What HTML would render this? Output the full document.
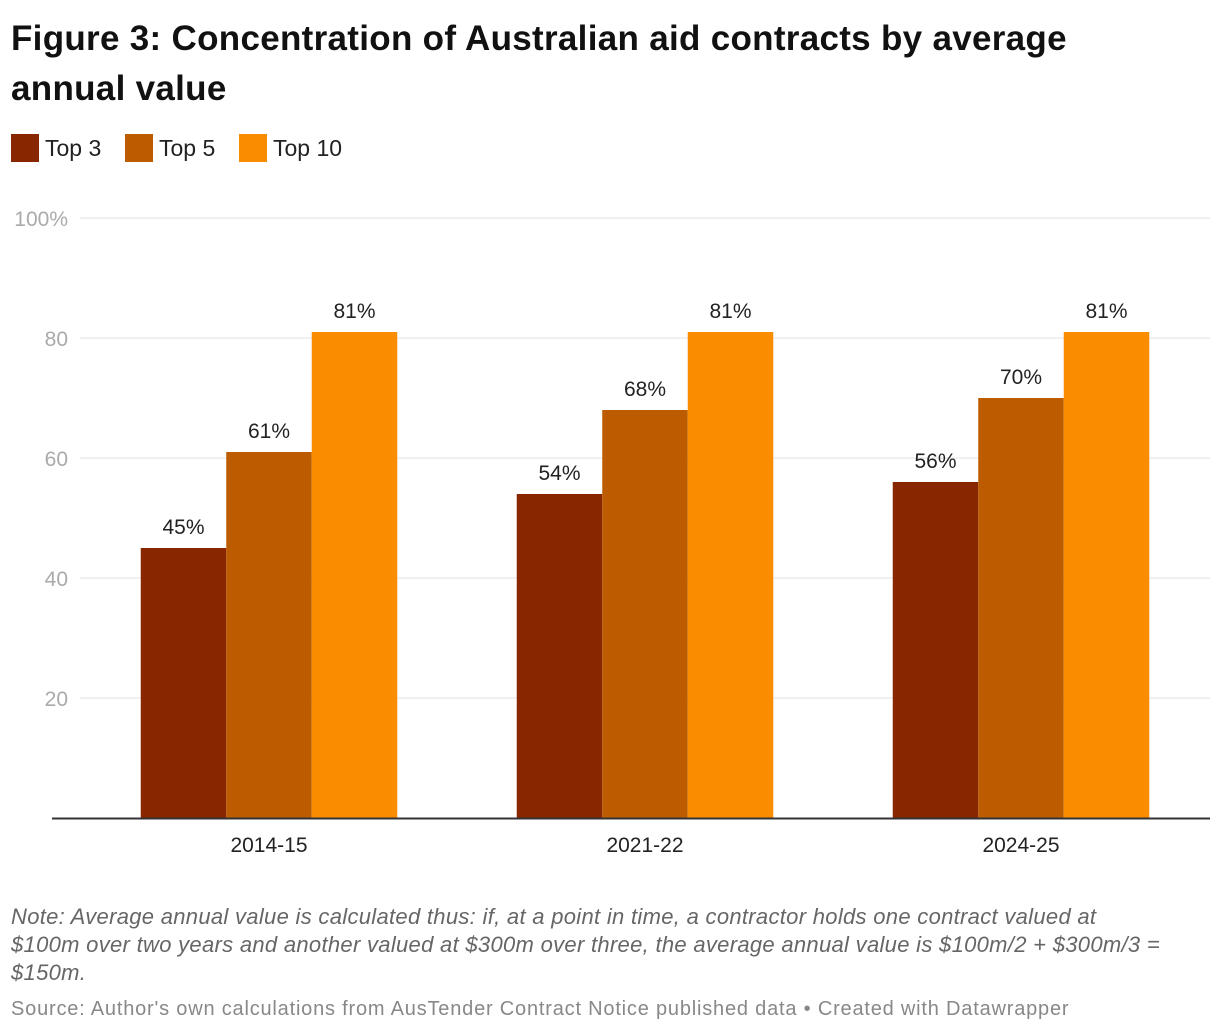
<!DOCTYPE html>
<html><head><meta charset="utf-8"><style>
body{margin:0;width:1220px;height:1034px;background:#fff;font-family:"Liberation Sans",sans-serif;overflow:hidden;position:relative}
.t{position:absolute;left:11px;top:14px;font-size:35px;font-weight:bold;line-height:50px;color:#111;width:1125px;letter-spacing:0.3px}
.leg{position:absolute;top:134px;font-size:23px;color:#222;display:flex;align-items:center}
.sw{width:28px;height:28px;margin-right:6px;display:inline-block}
.note{position:absolute;left:11px;top:903px;font-size:22px;font-style:italic;color:#666;line-height:28px;width:1150px;letter-spacing:0.3px}
.src{position:absolute;left:11px;top:998px;font-size:20px;color:#888;letter-spacing:0.8px;white-space:nowrap}
</style></head><body>
<div class="t">Figure 3: Concentration of Australian aid contracts by average annual value</div>
<div class="leg" style="left:11px"><span class="sw" style="background:#882600"></span>Top 3</div>
<div class="leg" style="left:125px"><span class="sw" style="background:#bd5b00"></span>Top 5</div>
<div class="leg" style="left:239px"><span class="sw" style="background:#fa8c00"></span>Top 10</div>
<svg id="c" width="1220" height="880" style="position:absolute;left:0;top:0"></svg>
<div class="note">Note: Average annual value is calculated thus: if, at a point in time, a contractor holds one contract valued at<br>$100m over two years and another valued at $300m over three, the average annual value is $100m/2 + $300m/3 =<br>$150m.</div>
<div class="src">Source: Author's own calculations from AusTender Contract Notice published data • Created with Datawrapper</div>
<script>
const categories=["2014-15","2021-22","2024-25"];
const top3=[45,54,56];
const top5=[61,68,70];
const top10=[81,81,81];
const ticks=[20,40,60,80,100];
const series=[top3,top5,top10];
const colors=["#882600","#bd5b00","#fa8c00"];
const svg=document.getElementById('c');const NS="http://www.w3.org/2000/svg";
const y=v=>818-v*6;const band=376,x0=81,bw=85.5;
function mk(t,a,txt){const e=document.createElementNS(NS,t);for(const k in a)e.setAttribute(k,a[k]);if(txt!=null)e.textContent=txt;svg.appendChild(e);return e;}
ticks.forEach(t=>{const g=mk('line',{x1:80,x2:1210,y1:y(t),y2:y(t),stroke:'#e0e0e0','stroke-width':1});


const l=mk('text',{x:68,y:y(t)+8,'text-anchor':'end','font-size':21,fill:'#aaa','font-family':'Liberation Sans'},t===100?'100%':t);

});
categories.forEach((c,i)=>{const cx=x0+band*i+band/2;
series.forEach((s,j)=>{const bx=cx-bw*1.5+bw*j;const r=mk('rect',{x:bx,y:y(s[i]),width:bw,height:s[i]*6,fill:colors[j]});


const v=mk('text',{x:bx+bw/2,y:y(s[i])-14,'text-anchor':'middle','font-size':21,fill:'#222','font-family':'Liberation Sans'},s[i]+'%');

});
const cl=mk('text',{x:cx,y:852,'text-anchor':'middle','font-size':21,fill:'#222','font-family':'Liberation Sans'},c);

});
const b=mk('line',{x1:52,x2:1210,y1:818.5,y2:818.5,stroke:'#333','stroke-width':2});


</script>
</body></html>
